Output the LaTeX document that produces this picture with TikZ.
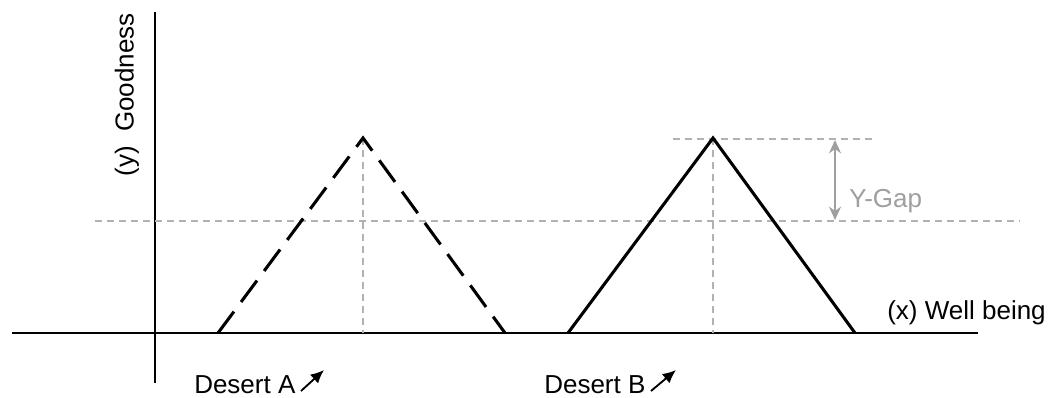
\documentclass[tikz,border=0pt]{standalone}
\usepackage{fontspec}
\setmainfont{Liberation Sans}
\usetikzlibrary{arrows.meta}
\begin{document}
\begin{tikzpicture}[x=0.75pt,y=-0.75pt,
  axis/.style={line width=1.7pt,black},
  tri/.style={line width=2.3pt,black,line join=miter},
  tridash/.style={tri,dash pattern=on 20pt off 9pt},
  guide/.style={gray!60,line width=0.8pt,dash pattern=on 5pt off 4pt},
  lbl/.style={font=\fontsize{19.5}{21}\selectfont,inner sep=0pt},
  glbl/.style={lbl,text=gray!75},
  ptr/.style={line width=1.4pt,-{Latex[length=10pt,width=9pt]}},
  gaparrow/.style={gray!75,line width=1.3pt,{Stealth[length=10pt,width=9pt]}-{Stealth[length=10pt,width=9pt]}}]
\useasboundingbox (0,0) rectangle (1048,398);
% axes
\coordinate (xl) at (12,333);
\coordinate (xr) at (978,333);
\coordinate (yt) at (155,12);
\coordinate (yb) at (155,383);
\draw[axis] (xl) -- (xr);
\draw[axis] (yb) -- (yt);
% triangle vertices
\coordinate (a1) at (218,333);
\coordinate (a2) at (363,138);
\coordinate (a3) at (505,333);
\coordinate (b1) at (568,333);
\coordinate (b2) at (713,138);
\coordinate (b3) at (855,333);
% guides
\coordinate (g1) at (95,221);
\coordinate (g2) at (1020,221);
\coordinate (t1) at (673,139);
\coordinate (t2) at (875,139);
\draw[guide] (g1) -- (g2);
\draw[guide] (t1) -- (t2);
\draw[guide] (a2) -- (363,333);
\draw[guide] (b2) -- (713,333);
% triangles
\draw[tridash] (a1) -- (a2) -- (a3);
\draw[tri] (b1) -- (b2) -- (b3);
% y-gap
\coordinate (ga) at (835,140);
\coordinate (gb) at (835,220);
\draw[gaparrow] (ga) -- (gb);
\node[glbl,anchor=west] (ygap) at (849,201) {Y-Gap};
% labels
\node[lbl,rotate=90] (ylab) at (127,95) {(y)\ \ Goodness};
\node[lbl,anchor=east] (xlab) at (1046,313) {(x) Well being};
\node[lbl,anchor=west] (da) at (194,385) {Desert A};
\node[lbl,anchor=west] (db) at (544,385) {Desert B};
\coordinate (das) at (301,391);
\coordinate (dae) at (324,370);
\coordinate (dbs) at (651,391);
\coordinate (dbe) at (676,370);
\draw[ptr] (das) -- (dae);
\draw[ptr] (dbs) -- (dbe);
\end{tikzpicture}
\end{document}
